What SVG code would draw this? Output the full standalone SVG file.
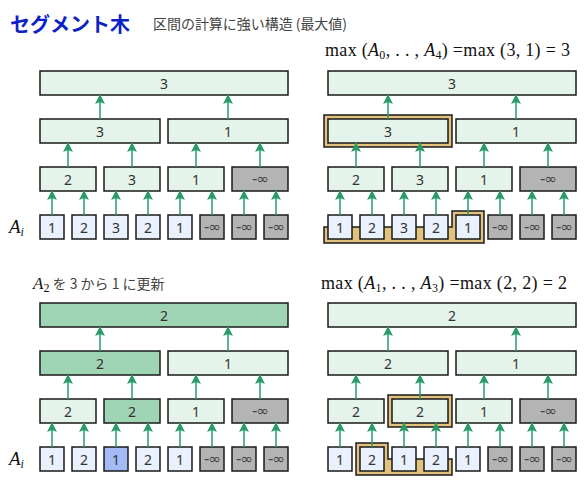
<svg xmlns="http://www.w3.org/2000/svg" width="584" height="484" viewBox="0 0 584 484">
<defs>
<style>
.n rect{fill:#e4f4ea;stroke:#1a1a1a;stroke-width:1.5}
.n.h rect{fill:#9fd5b5}
.n.l rect{fill:#e8f1fc}
.n.u rect{fill:#a3bbf5}
.n.g rect{fill:#b4b4b4}
.n text{font-family:"Noto Sans","DejaVu Sans",sans-serif;font-size:14px;fill:#333;text-anchor:middle;dominant-baseline:central}
.n.g text{font-family:"DejaVu Sans",sans-serif;font-size:15px;fill:#444;letter-spacing:-1px}
.fr{fill:#e3c27f;stroke:#1a1a1a;stroke-width:1.5}
.c line{stroke:#2a9a6a;stroke-width:1.5;marker-end:url(#ah)}
.math{font-family:"Liberation Serif","DejaVu Serif",serif;font-size:18px;fill:#111}
.jp{font-family:"Noto Sans CJK JP","Noto Sans",sans-serif;font-size:14px;fill:#444}
.ai{font-family:"Liberation Serif","DejaVu Serif",serif;font-style:italic;font-size:19px;fill:#111}
</style>
<marker id="ah" viewBox="0 0 10 10" refX="9" refY="5" markerWidth="10" markerHeight="10" markerUnits="userSpaceOnUse" orient="auto">
<path d="M0,0 L10,5 L0,10 L2,5 Z" fill="#2a9a6a"/>
</marker>
</defs>
<rect width="584" height="484" fill="#fff"/>
<text x="10" y="32" font-family="Noto Sans CJK JP,sans-serif" font-size="20" font-weight="bold" fill="#0b22c4">セグメント木</text>
<text x="153" y="29" class="jp" textLength="194" lengthAdjust="spacing">区間の計算に強い構造 (最大値)</text>
<text x="325" y="56" class="math" textLength="245" lengthAdjust="spacing">max (<tspan font-style="italic">A</tspan><tspan font-size="12" dy="3">0</tspan><tspan dy="-3">, . . , </tspan><tspan font-style="italic">A</tspan><tspan font-size="12" dy="3">4</tspan><tspan dy="-3">) =max (3, 1) = 3</tspan></text>
<text x="33" y="289" font-family="Liberation Serif,serif" font-style="italic" font-size="17" fill="#111">A<tspan style="font-style:normal;font-size:12px" dy="3">2</tspan><tspan class="jp" style="font-style:normal" dy="-3"> を 3 から 1 に更新</tspan></text>
<text x="321" y="289" class="math" textLength="246" lengthAdjust="spacing">max (<tspan font-style="italic">A</tspan><tspan font-size="12" dy="3">1</tspan><tspan dy="-3">, . . , </tspan><tspan font-style="italic">A</tspan><tspan font-size="12" dy="3">3</tspan><tspan dy="-3">) =max (2, 2) = 2</tspan></text>
<text x="9" y="233" class="ai">A<tspan font-size="12" dy="3">i</tspan></text>
<text x="9" y="465" class="ai">A<tspan font-size="12" dy="3">i</tspan></text>
<g id="frames">
<rect class="fr" x="324" y="115" width="128" height="32"/>
<polygon class="fr" points="324,227 452,227 452,211 484,211 484,243 324,243"/>
<rect class="fr" x="388" y="395" width="64" height="32"/>
<polygon class="fr" points="356,443 388,443 388,459 452,459 452,475 356,475"/>
</g>
<!-- Top-left -->
<g id="tl-root" class="n"><rect x="40" y="71" width="248" height="24"/><text x="164" y="83">3</text></g>
<g id="tl-l2a" class="n"><rect x="40" y="119" width="120" height="24"/><text x="100" y="131">3</text></g>
<g id="tl-l2b" class="n"><rect x="168" y="119" width="120" height="24"/><text x="228" y="131">1</text></g>
<g id="tl-l3a" class="n"><rect x="40" y="167" width="56" height="24"/><text x="68" y="179">2</text></g>
<g id="tl-l3b" class="n"><rect x="104" y="167" width="56" height="24"/><text x="132" y="179">3</text></g>
<g id="tl-l3c" class="n"><rect x="168" y="167" width="56" height="24"/><text x="196" y="179">1</text></g>
<g id="tl-l3d" class="n g"><rect x="232" y="167" width="56" height="24"/><text x="260" y="179">-∞</text></g>
<g id="tl-a0" class="n l"><rect x="40" y="215" width="24" height="24"/><text x="52" y="227">1</text></g>
<g id="tl-a1" class="n l"><rect x="72" y="215" width="24" height="24"/><text x="84" y="227">2</text></g>
<g id="tl-a2" class="n l"><rect x="104" y="215" width="24" height="24"/><text x="116" y="227">3</text></g>
<g id="tl-a3" class="n l"><rect x="136" y="215" width="24" height="24"/><text x="148" y="227">2</text></g>
<g id="tl-a4" class="n l"><rect x="168" y="215" width="24" height="24"/><text x="180" y="227">1</text></g>
<g id="tl-a5" class="n g"><rect x="200" y="215" width="24" height="24"/><text x="212" y="227">-∞</text></g>
<g id="tl-a6" class="n g"><rect x="232" y="215" width="24" height="24"/><text x="244" y="227">-∞</text></g>
<g id="tl-a7" class="n g"><rect x="264" y="215" width="24" height="24"/><text x="276" y="227">-∞</text></g>
<!-- Top-right -->
<g id="tr-root" class="n"><rect x="328" y="71" width="248" height="24"/><text x="452" y="83">3</text></g>
<g id="tr-l2a" class="n"><rect x="328" y="119" width="120" height="24"/><text x="388" y="131">3</text></g>
<g id="tr-l2b" class="n"><rect x="456" y="119" width="120" height="24"/><text x="516" y="131">1</text></g>
<g id="tr-l3a" class="n"><rect x="328" y="167" width="56" height="24"/><text x="356" y="179">2</text></g>
<g id="tr-l3b" class="n"><rect x="392" y="167" width="56" height="24"/><text x="420" y="179">3</text></g>
<g id="tr-l3c" class="n"><rect x="456" y="167" width="56" height="24"/><text x="484" y="179">1</text></g>
<g id="tr-l3d" class="n g"><rect x="520" y="167" width="56" height="24"/><text x="548" y="179">-∞</text></g>
<g id="tr-a0" class="n l"><rect x="328" y="215" width="24" height="24"/><text x="340" y="227">1</text></g>
<g id="tr-a1" class="n l"><rect x="360" y="215" width="24" height="24"/><text x="372" y="227">2</text></g>
<g id="tr-a2" class="n l"><rect x="392" y="215" width="24" height="24"/><text x="404" y="227">3</text></g>
<g id="tr-a3" class="n l"><rect x="424" y="215" width="24" height="24"/><text x="436" y="227">2</text></g>
<g id="tr-a4" class="n l"><rect x="456" y="215" width="24" height="24"/><text x="468" y="227">1</text></g>
<g id="tr-a5" class="n g"><rect x="488" y="215" width="24" height="24"/><text x="500" y="227">-∞</text></g>
<g id="tr-a6" class="n g"><rect x="520" y="215" width="24" height="24"/><text x="532" y="227">-∞</text></g>
<g id="tr-a7" class="n g"><rect x="552" y="215" width="24" height="24"/><text x="564" y="227">-∞</text></g>
<!-- Bottom-left -->
<g id="bl-root" class="n h"><rect x="40" y="303" width="248" height="24"/><text x="164" y="315">2</text></g>
<g id="bl-l2a" class="n h"><rect x="40" y="351" width="120" height="24"/><text x="100" y="363">2</text></g>
<g id="bl-l2b" class="n"><rect x="168" y="351" width="120" height="24"/><text x="228" y="363">1</text></g>
<g id="bl-l3a" class="n"><rect x="40" y="399" width="56" height="24"/><text x="68" y="411">2</text></g>
<g id="bl-l3b" class="n h"><rect x="104" y="399" width="56" height="24"/><text x="132" y="411">2</text></g>
<g id="bl-l3c" class="n"><rect x="168" y="399" width="56" height="24"/><text x="196" y="411">1</text></g>
<g id="bl-l3d" class="n g"><rect x="232" y="399" width="56" height="24"/><text x="260" y="411">-∞</text></g>
<g id="bl-a0" class="n l"><rect x="40" y="447" width="24" height="24"/><text x="52" y="459">1</text></g>
<g id="bl-a1" class="n l"><rect x="72" y="447" width="24" height="24"/><text x="84" y="459">2</text></g>
<g id="bl-a2" class="n u"><rect x="104" y="447" width="24" height="24"/><text x="116" y="459">1</text></g>
<g id="bl-a3" class="n l"><rect x="136" y="447" width="24" height="24"/><text x="148" y="459">2</text></g>
<g id="bl-a4" class="n l"><rect x="168" y="447" width="24" height="24"/><text x="180" y="459">1</text></g>
<g id="bl-a5" class="n g"><rect x="200" y="447" width="24" height="24"/><text x="212" y="459">-∞</text></g>
<g id="bl-a6" class="n g"><rect x="232" y="447" width="24" height="24"/><text x="244" y="459">-∞</text></g>
<g id="bl-a7" class="n g"><rect x="264" y="447" width="24" height="24"/><text x="276" y="459">-∞</text></g>
<!-- Bottom-right -->
<g id="br-root" class="n"><rect x="328" y="303" width="248" height="24"/><text x="452" y="315">2</text></g>
<g id="br-l2a" class="n"><rect x="328" y="351" width="120" height="24"/><text x="388" y="363">2</text></g>
<g id="br-l2b" class="n"><rect x="456" y="351" width="120" height="24"/><text x="516" y="363">1</text></g>
<g id="br-l3a" class="n"><rect x="328" y="399" width="56" height="24"/><text x="356" y="411">2</text></g>
<g id="br-l3b" class="n"><rect x="392" y="399" width="56" height="24"/><text x="420" y="411">2</text></g>
<g id="br-l3c" class="n"><rect x="456" y="399" width="56" height="24"/><text x="484" y="411">1</text></g>
<g id="br-l3d" class="n g"><rect x="520" y="399" width="56" height="24"/><text x="548" y="411">-∞</text></g>
<g id="br-a0" class="n l"><rect x="328" y="447" width="24" height="24"/><text x="340" y="459">1</text></g>
<g id="br-a1" class="n l"><rect x="360" y="447" width="24" height="24"/><text x="372" y="459">2</text></g>
<g id="br-a2" class="n l"><rect x="392" y="447" width="24" height="24"/><text x="404" y="459">1</text></g>
<g id="br-a3" class="n l"><rect x="424" y="447" width="24" height="24"/><text x="436" y="459">2</text></g>
<g id="br-a4" class="n l"><rect x="456" y="447" width="24" height="24"/><text x="468" y="459">1</text></g>
<g id="br-a5" class="n g"><rect x="488" y="447" width="24" height="24"/><text x="500" y="459">-∞</text></g>
<g id="br-a6" class="n g"><rect x="520" y="447" width="24" height="24"/><text x="532" y="459">-∞</text></g>
<g id="br-a7" class="n g"><rect x="552" y="447" width="24" height="24"/><text x="564" y="459">-∞</text></g>
<g id="connectors" class="c">
<g id="c-tl">
<line x1="52" y1="215" x2="52" y2="191"/><line x1="84" y1="215" x2="84" y2="191"/><line x1="116" y1="215" x2="116" y2="191"/><line x1="148" y1="215" x2="148" y2="191"/><line x1="180" y1="215" x2="180" y2="191"/><line x1="212" y1="215" x2="212" y2="191"/><line x1="244" y1="215" x2="244" y2="191"/><line x1="276" y1="215" x2="276" y2="191"/>
<line x1="68" y1="167" x2="68" y2="143"/><line x1="132" y1="167" x2="132" y2="143"/><line x1="196" y1="167" x2="196" y2="143"/><line x1="260" y1="167" x2="260" y2="143"/>
<line x1="100" y1="119" x2="100" y2="95"/><line x1="228" y1="119" x2="228" y2="95"/>
</g>
<g id="c-tr">
<line x1="340" y1="215" x2="340" y2="191"/><line x1="372" y1="215" x2="372" y2="191"/><line x1="404" y1="215" x2="404" y2="191"/><line x1="436" y1="215" x2="436" y2="191"/><line x1="468" y1="215" x2="468" y2="191"/><line x1="500" y1="215" x2="500" y2="191"/><line x1="532" y1="215" x2="532" y2="191"/><line x1="564" y1="215" x2="564" y2="191"/>
<line x1="356" y1="167" x2="356" y2="143"/><line x1="420" y1="167" x2="420" y2="143"/><line x1="484" y1="167" x2="484" y2="143"/><line x1="548" y1="167" x2="548" y2="143"/>
<line x1="388" y1="119" x2="388" y2="95"/><line x1="516" y1="119" x2="516" y2="95"/>
</g>
<g id="c-bl">
<line x1="52" y1="447" x2="52" y2="423"/><line x1="84" y1="447" x2="84" y2="423"/><line x1="116" y1="447" x2="116" y2="423"/><line x1="148" y1="447" x2="148" y2="423"/><line x1="180" y1="447" x2="180" y2="423"/><line x1="212" y1="447" x2="212" y2="423"/><line x1="244" y1="447" x2="244" y2="423"/><line x1="276" y1="447" x2="276" y2="423"/>
<line x1="68" y1="399" x2="68" y2="375"/><line x1="132" y1="399" x2="132" y2="375"/><line x1="196" y1="399" x2="196" y2="375"/><line x1="260" y1="399" x2="260" y2="375"/>
<line x1="100" y1="351" x2="100" y2="327"/><line x1="228" y1="351" x2="228" y2="327"/>
</g>
<g id="c-br">
<line x1="340" y1="447" x2="340" y2="423"/><line x1="372" y1="447" x2="372" y2="423"/><line x1="404" y1="447" x2="404" y2="423"/><line x1="436" y1="447" x2="436" y2="423"/><line x1="468" y1="447" x2="468" y2="423"/><line x1="500" y1="447" x2="500" y2="423"/><line x1="532" y1="447" x2="532" y2="423"/><line x1="564" y1="447" x2="564" y2="423"/>
<line x1="356" y1="399" x2="356" y2="375"/><line x1="420" y1="399" x2="420" y2="375"/><line x1="484" y1="399" x2="484" y2="375"/><line x1="548" y1="399" x2="548" y2="375"/>
<line x1="388" y1="351" x2="388" y2="327"/><line x1="516" y1="351" x2="516" y2="327"/>
</g>
</g>
</svg>
